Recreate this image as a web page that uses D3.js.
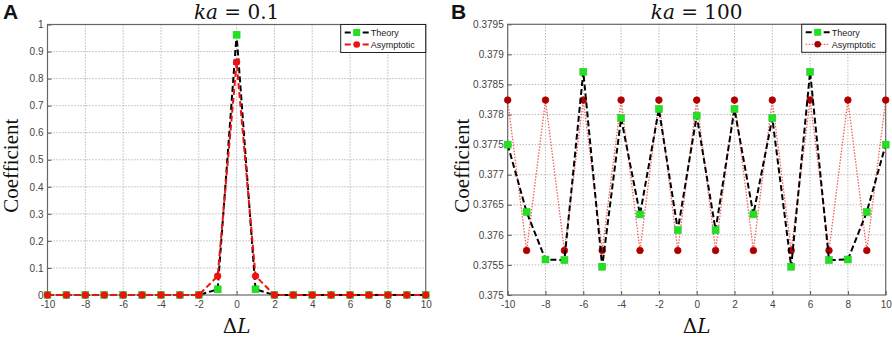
<!DOCTYPE html>
<html><head><meta charset="utf-8">
<script src="https://cdn.jsdelivr.net/npm/d3@7"></script>
<style>body{margin:0;background:#fff}svg{display:block}</style>
</head><body>
<svg id="c" width="892" height="337"></svg>
<script>
const dL = d3.range(-10, 11);
const theoryA = [0,0,0,0,0,0,0,0,0,0.021,0.962,0.021,0,0,0,0,0,0,0,0,0];
const asymA   = [0,0,0,0,0,0,0,0,0,0.070,0.861,0.070,0,0,0,0,0,0,0,0,0];
const theoryB = [0.3775,0.37638,0.37559,0.37558,0.37871,0.37547,0.37794,0.37634,0.37809,0.37608,0.37798,
                 0.37608,0.37809,0.37634,0.37794,0.37547,0.37871,0.37558,0.37559,0.37638,0.3775];
const asymB   = [0.37824,0.37574,0.37824,0.37574,0.37824,0.37574,0.37824,0.37574,0.37824,0.37574,0.37824,
                 0.37574,0.37824,0.37574,0.37824,0.37574,0.37824,0.37574,0.37824,0.37574,0.37824];
const xTicks = [-10,-8,-6,-4,-2,0,2,4,6,8,10];
const yTicksA = [0,0.1,0.2,0.3,0.4,0.5,0.6,0.7,0.8,0.9,1];
const yTicksB = [0.375,0.3755,0.376,0.3765,0.377,0.3775,0.378,0.3785,0.379,0.3795];
const titles = ["ka", "ka"];
const titleVals = ["0.1", "100"];
const panelLetters = ["A", "B"];
const seriesNames = ["Theory", "Asymptotic"];

const svg = d3.select("#c");

function panel(o) {
  const g = svg.append("g");
  const x = d3.scaleLinear().domain([-10, 10]).range([o.left, o.right]);
  const y = d3.scaleLinear().domain(o.ydom).range([o.bottom, o.top]);
  // grid
  g.append("g").selectAll("line.v").data(xTicks.slice(1, -1)).join("line")
    .attr("x1", d => x(d)).attr("x2", d => x(d)).attr("y1", o.top).attr("y2", o.bottom)
    .attr("stroke", "#9a9a9a").attr("stroke-width", 1).attr("stroke-dasharray", "1,2");
  g.append("g").selectAll("line.h").data(o.yticks.slice(1, -1)).join("line")
    .attr("x1", o.left).attr("x2", o.right).attr("y1", d => y(d)).attr("y2", d => y(d))
    .attr("stroke", "#9a9a9a").attr("stroke-width", 1).attr("stroke-dasharray", "1,2");
  // axes
  const xa = g.append("g").attr("transform", `translate(0,${o.bottom})`)
    .call(d3.axisBottom(x).tickValues(xTicks).tickSize(-4).tickPadding(6).tickFormat(d => String(d)));
  const ya = g.append("g").attr("transform", `translate(${o.left},0)`)
    .call(d3.axisLeft(y).tickValues(o.yticks).tickSize(-4).tickPadding(4).tickFormat(d => String(+d.toFixed(4))));
  [xa, ya].forEach(a => {
    a.select(".domain").remove();
    a.selectAll("line").attr("stroke", "#555");
    a.selectAll("text").attr("fill", "#444").style("font-family", "Arial, 'Liberation Sans', sans-serif").style("font-size", "10px");
  });
  g.append("rect").attr("x", o.left).attr("y", o.top).attr("width", o.right - o.left).attr("height", o.bottom - o.top)
    .attr("fill", "none").attr("stroke", "#666").attr("stroke-width", 1.2);

  const line = d3.line().x((d, i) => x(dL[i])).y(d => y(d));
  const drawTheory = () => {
    g.append("path").datum(o.theory).attr("d", line).attr("fill", "none")
      .attr("stroke", "#000").attr("stroke-width", 2).attr("stroke-dasharray", "6,3");
    g.append("g").selectAll("rect").data(o.theory).join("rect")
      .attr("x", (d, i) => x(dL[i]) - 3.5).attr("y", d => y(d) - 3.5).attr("width", 7).attr("height", 7)
      .attr("fill", "#22e022").attr("stroke", "#1fc81f").attr("stroke-width", 0.5);
  };
  const drawAsym = () => {
    const p = g.append("path").datum(o.asym).attr("d", line).attr("fill", "none");
    if (o.dotted) p.attr("stroke", "#f06060").attr("stroke-width", 1.3).attr("stroke-dasharray", "1.5,1.5");
    else p.attr("stroke", "#ee1111").attr("stroke-width", 2).attr("stroke-dasharray", "6,3");
    g.append("g").selectAll("circle").data(o.asym).join("circle")
      .attr("cx", (d, i) => x(dL[i])).attr("cy", d => y(d)).attr("r", 3.3)
      .attr("fill", o.dotted ? "#a80000" : "#ee1111").attr("stroke", o.dotted ? "#c00000" : "#ee1111").attr("stroke-width", 0.8);
  };
  if (o.dotted) { drawAsym(); drawTheory(); } else { drawTheory(); drawAsym(); }

  // legend
  const lg = g.append("g").attr("transform", `translate(${o.right - o.legW},${o.top})`);
  lg.append("rect").attr("width", o.legW).attr("height", 28).attr("fill", "#fff").attr("stroke", "#222").attr("stroke-width", 1);
  const rows = [
    {name: seriesNames[0], yy: 8},
    {name: seriesNames[1], yy: 20}
  ];
  lg.append("line").attr("x1", 4).attr("x2", 28).attr("y1", 8).attr("y2", 8)
    .attr("stroke", "#000").attr("stroke-width", 2).attr("stroke-dasharray", "6,3");
  lg.append("rect").attr("x", 16 - 3.5).attr("y", 8 - 3.5).attr("width", 7).attr("height", 7).attr("fill", "#22e022");
  const a = lg.append("line").attr("x1", 4).attr("x2", 28).attr("y1", 20).attr("y2", 20);
  if (o.dotted) a.attr("stroke", "#f06060").attr("stroke-width", 1.3).attr("stroke-dasharray", "1.5,1.5");
  else a.attr("stroke", "#ee1111").attr("stroke-width", 2).attr("stroke-dasharray", "6,3");
  lg.append("circle").attr("cx", 16).attr("cy", 20).attr("r", 3.3).attr("fill", o.dotted ? "#a80000" : "#ee1111");
  lg.selectAll("text.l").data(rows).join("text").attr("x", 30).attr("y", d => d.yy + 3.5)
    .text(d => d.name).attr("fill", "#222")
    .style("font-family", "Arial, 'Liberation Sans', sans-serif").style("font-size", "9px");

  // title
  const cx = (o.left + o.right) / 2;
  const t = g.append("text").attr("x", cx).attr("y", 19).attr("text-anchor", "middle")
    .style("font-family", "'DejaVu Serif', serif").style("font-size", "20px").attr("fill", "#111");
  t.append("tspan").style("font-style", "italic").text(titles[o.idx]);
  t.append("tspan").text(" = " + titleVals[o.idx]);
  // panel letter
  g.append("text").attr("x", o.letterX).attr("y", 19).text(panelLetters[o.idx])
    .style("font-family", "Arial, 'Liberation Sans', sans-serif").style("font-weight", "bold").style("font-size", "21px").attr("fill", "#111");
  // y label
  g.append("text").attr("transform", `translate(${o.ylabX},${(o.top + o.bottom) / 2 + 6}) rotate(-90)`)
    .attr("text-anchor", "middle").text("Coefficient")
    .style("font-family", "'Liberation Serif', 'Times New Roman', serif").style("font-size", "21px").attr("fill", "#111");
  // x label
  const xl = g.append("text").attr("x", cx).attr("y", 333).attr("text-anchor", "middle")
    .style("font-family", "'DejaVu Serif', serif").style("font-size", "20px").attr("fill", "#111");
  xl.append("tspan").text("Δ");
  xl.append("tspan").style("font-style", "italic").text("L");
}

panel({idx: 0, left: 47.5, right: 425.7, top: 24.5, bottom: 295, ydom: [0, 1], yticks: yTicksA,
  theory: theoryA, asym: asymA, dotted: false, legW: 85, letterX: 3, ylabX: 18});
panel({idx: 1, left: 507.7, right: 885.7, top: 24.3, bottom: 295, ydom: [0.375, 0.3795], yticks: yTicksB,
  theory: theoryB, asym: asymB, dotted: true, legW: 84, letterX: 451, ylabX: 469});
</script>
</body></html>
